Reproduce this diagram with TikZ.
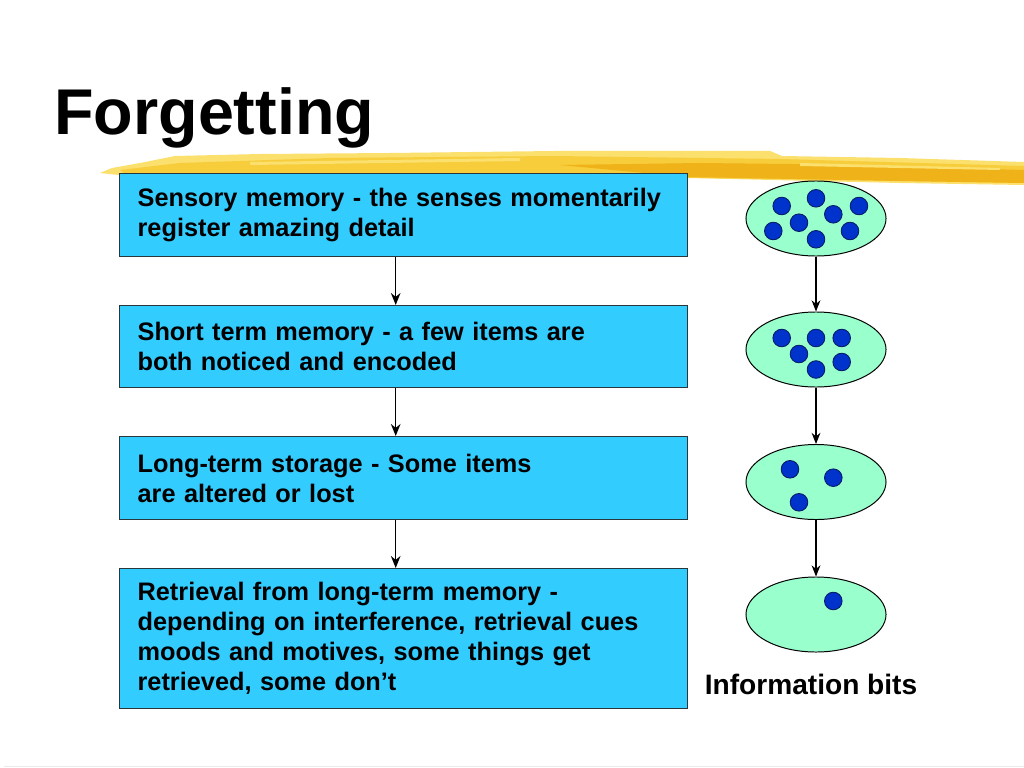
\documentclass[tikz,border=0pt]{standalone}
\usepackage{fontspec}
\setmainfont{Liberation Sans}
\usetikzlibrary{arrows.meta,shapes.geometric}
\definecolor{boxblue}{RGB}{51,204,255}
\definecolor{boxline}{RGB}{40,55,60}
\definecolor{bitgreen}{RGB}{153,255,204}
\definecolor{bitblue}{RGB}{0,51,204}
\definecolor{bitline}{RGB}{0,25,100}
\definecolor{hlyellow}{RGB}{247,205,60}
\definecolor{hllight}{RGB}{251,224,110}
\definecolor{hlorange}{RGB}{240,178,25}

\begin{document}
\begin{tikzpicture}[x=0.025cm,y=-0.025cm,
  stage/.style={draw=boxline,line width=0.9pt,fill=boxblue,anchor=north west,
    minimum width=14.2cm,text width=13.3cm,inner xsep=0.45cm,inner ysep=0pt,
    align=left,font=\fontsize{18}{21.3}\selectfont\bfseries},
  pool/.style={ellipse,draw,line width=0.7pt,fill=bitgreen,
    minimum width=3.5cm,minimum height=1.875cm,inner sep=0pt},
  bit/.style={draw=bitline,line width=0.6pt,fill=bitblue},
  flow/.style={-{Stealth[length=0.3cm,width=0.24cm]},line width=1.1pt},
  thinflow/.style={-{Stealth[length=0.28cm,width=0.22cm]},line width=0.8pt}]
\useasboundingbox[fill=white] (0,0) rectangle (1024,768);
\draw[black!8] (4,766.5) -- (1024,766.5);
% brush stroke under the title
\fill[hllight] (100,173) -- (112,168) -- (140,163) -- (175,156) -- (260,154) -- (390,153)
  -- (554,151) -- (770,151) -- (782,156) -- (900,158) -- (1024,162) -- (1024,185) -- (900,183)
  -- (687,178) -- (400,175) -- (119,175) -- cycle;
\fill[hlyellow] (120,170) -- (180,163) -- (330,158) -- (554,156) -- (781,159) -- (1024,166)
  -- (1024,183) -- (700,178) -- (400,175) -- (125,174) -- cycle;
\fill[hlorange] (560,165) -- (700,163) -- (790,164) -- (1024,170) -- (1024,183) -- (900,181)
  -- (687,177) -- cycle;
\fill[hllight] (250,162) -- (520,158) -- (520,161) -- (250,165) -- cycle;
\fill[hllight] (800,163) -- (1000,168) -- (1000,170) -- (800,166) -- cycle;
\node[anchor=base west,inner sep=0pt,font=\fontsize{46}{50}\selectfont\bfseries] (title) at (54,135) {Forgetting};
\node[stage,minimum height=2.075cm] (sensory) at (119,173)
  {Sensory memory - the senses momentarily register amazing detail};
\node[stage,minimum height=2.05cm] (shortterm) at (119,305)
  {Short term memory - a few items are\\ both noticed and encoded};
\node[stage,minimum height=2.075cm] (longterm) at (119,436)
  {Long-term storage - Some items\\ are altered or lost};
\node[stage,minimum height=3.5cm] (retrieval) at (119,568)
  {Retrieval from long-term memory -\\ depending on interference, retrieval cues\\ moods and motives, some things get\\ retrieved, some don't};
\draw[flow] ([xshift=-0.2cm]sensory.south) -- ([xshift=-0.2cm]shortterm.north);
\draw[flow] ([xshift=-0.2cm]shortterm.south) -- ([xshift=-0.2cm]longterm.north);
\draw[flow] ([xshift=-0.2cm]longterm.south) -- ([xshift=-0.2cm]retrieval.north);
\node[pool] (bits1) at (816,218.5) {};
\node[pool] (bits2) at (816,349.5) {};
\node[pool] (bits3) at (816,482) {};
\node[pool] (bits4) at (816,614.5) {};
\draw[thinflow] (bits1) -- (bits2);
\draw[thinflow] (bits2) -- (bits3);
\draw[thinflow] (bits3) -- (bits4);
\foreach \p in {(781.7,206),(816,198.3),(859,206),(833.3,214.3),(799,222.7),(773.3,231),(816,239.3),(850,231),
  (781.7,338),(816,338),(841.7,338),(799,354),(841.7,362),(816,369.5),
  (790,469.3),(833.3,477.7),(799,502.3),
  (833.3,601)}
  \draw[bit] \p circle (0.22cm);
\node[font=\fontsize{20}{24}\selectfont\bfseries] (infolabel) at (811,684) {Information bits};
\end{tikzpicture}
\end{document}
